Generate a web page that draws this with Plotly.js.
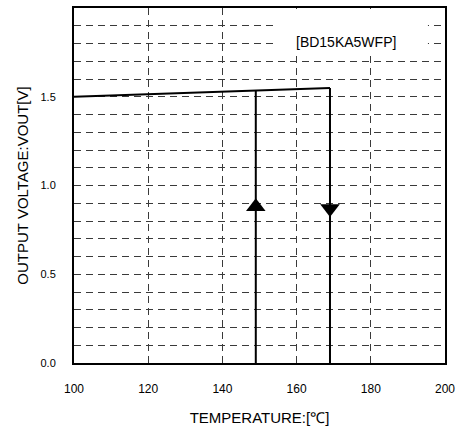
<!DOCTYPE html>
<html>
<head>
<meta charset="utf-8">
<script src="https://cdn.plot.ly/plotly-3.0.1.min.js"></script>
<style>html,body{margin:0;padding:0;background:#fff;}#chart{width:470px;height:427px;}</style>
</head>
<body>
<div id="chart"></div>
<script>
// Data
var curveTemp = [100, 169];
var curveVout = [1.50, 1.55];
var riseTemp = [149, 149];
var riseVout = [0, 1.535];
var fallTemp = [169, 169];
var fallVout = [1.55, 0];
var arrowTemp = [149, 169];
var arrowVout = [0.88, 0.87];
var arrowSymbols = ['triangle-up', 'triangle-down'];
var xTicks = [100, 120, 140, 160, 180, 200];
var yTicks = [0.0, 0.5, 1.0, 1.5];
var yTickText = ['0.0', '0.5', '1.0', '1.5'];
var labelText = '[BD15KA5WFP]';
var labelPos = [173.2, 1.81];
var labelBox = [154.7, 195.4, 1.74, 1.995];

var lineStyle = {color: '#000', width: 2};
var traces = [
  {x: curveTemp, y: curveVout, mode: 'lines', line: lineStyle, hoverinfo: 'skip'},
  {x: riseTemp, y: riseVout, mode: 'lines', line: lineStyle, hoverinfo: 'skip'},
  {x: fallTemp, y: fallVout, mode: 'lines', line: lineStyle, hoverinfo: 'skip'},
  {x: arrowTemp, y: arrowVout, mode: 'markers',
   marker: {symbol: arrowSymbols, size: 17, color: '#000', line: {width: 0}}, hoverinfo: 'skip'}
];

var gridDash = '7px,5px';
var gridColor = '#3a3a3a';
var layout = {
  width: 470, height: 427,
  margin: {l: 74, r: 25, t: 8, b: 64, pad: 0},
  paper_bgcolor: '#fff', plot_bgcolor: '#fff',
  showlegend: false,
  font: {family: 'Arial, "Liberation Sans", sans-serif', color: '#000'},
  xaxis: {
    range: [100, 200], tickvals: xTicks, ticktext: xTicks.map(String),
    showgrid: true, gridcolor: gridColor, gridwidth: 1, griddash: gridDash,
    zeroline: false, showline: true, mirror: true, linecolor: '#000', linewidth: 2,
    ticks: '', tickfont: {size: 12, color: '#000'}, ticklabelstandoff: 14,
    title: {text: 'TEMPERATURE:[℃]', font: {size: 15, color: '#000'}, standoff: 17}
  },
  yaxis: {
    range: [0, 2.0], tickvals: yTicks, ticktext: yTickText,
    showgrid: true, gridcolor: gridColor, gridwidth: 1, griddash: gridDash,
    minor: {dtick: 0.1, showgrid: true, gridcolor: gridColor, gridwidth: 1, griddash: gridDash, ticks: ''},
    zeroline: false, showline: true, mirror: true, linecolor: '#000', linewidth: 2,
    ticks: '', tickfont: {size: 11, color: '#000'}, ticklabelstandoff: 14,
    title: {text: 'OUTPUT VOLTAGE:VOUT[V]', font: {size: 15, color: '#000'}, standoff: 8}
  },
  shapes: [
    {type: 'rect', xref: 'x', yref: 'y', x0: labelBox[0], x1: labelBox[1], y0: labelBox[2], y1: labelBox[3],
     fillcolor: '#fff', line: {width: 0}, layer: 'between'}
  ],
  annotations: [
    {x: labelPos[0], y: labelPos[1], xref: 'x', yref: 'y', text: labelText, showarrow: false,
     font: {size: 14, color: '#000'}}
  ]
};
Plotly.newPlot('chart', traces, layout, {displayModeBar: false, staticPlot: true});
</script>
</body>
</html>
